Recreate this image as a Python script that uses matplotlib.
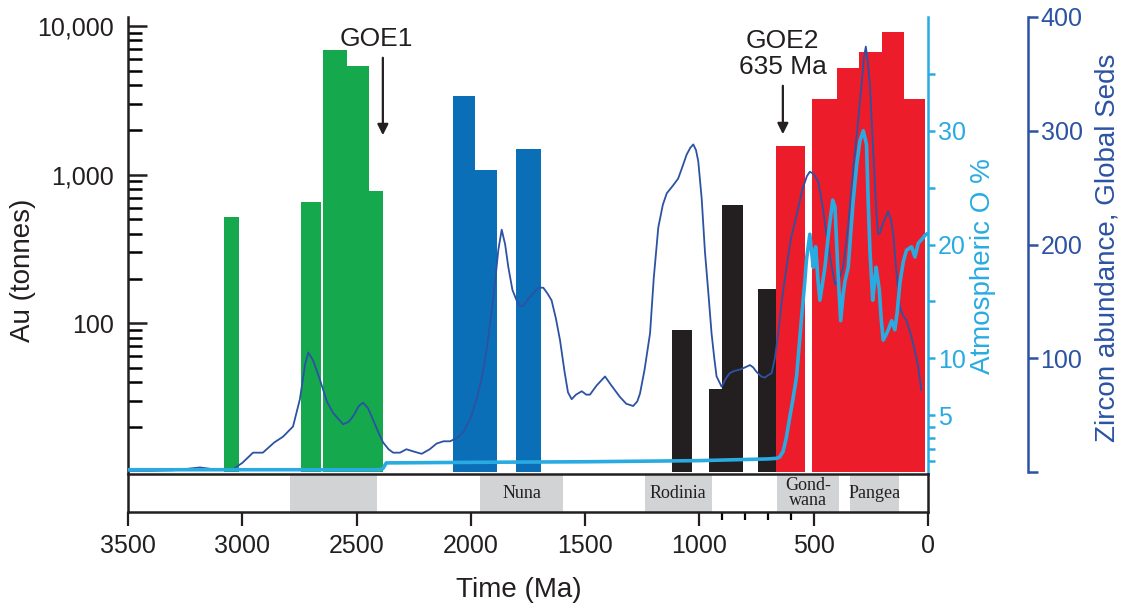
import matplotlib
matplotlib.use("Agg")
import matplotlib.pyplot as plt
from matplotlib.ticker import FixedLocator, FixedFormatter, NullFormatter

plt.rcParams["font.family"] = ["Liberation Sans", "DejaVu Sans"]

GREEN = "#15A84C"
BLUE = "#0B6FB8"
BLACK = "#231F20"
RED = "#EC1C2A"
LIGHT = "#29ABE2"
ZIRC = "#2C52A3"
GRAY = "#D1D3D4"

# Au deposits, bins given as (older edge, younger edge) in Ma, tonnes
green_old = [3080, 2741, 2646, 2543, 2445]
green_young = [3013, 2656, 2543, 2445, 2383]
green_au = [520, 650, 6900, 5400, 775]

blue_old = [2077, 1982, 1804]
blue_young = [1982, 1887, 1695]
blue_au = [3380, 1070, 1500]

black_old = [1119, 959, 903, 743]
black_young = [1034, 903, 811, 667]
black_au = [90, 36, 630, 170]

red_old = [667, 506, 396, 304, 203, 106]
red_young = [538, 396, 304, 203, 106, 12]
red_au = [1550, 3240, 5220, 6640, 9160, 3240]

# zircon abundance, global seds
zircon_age = [3500, 3400, 3300, 3230, 3185, 3130, 3040, 3000, 2953, 2910, 2860, 2822,
              2778, 2748, 2725, 2711, 2690, 2660, 2630, 2603, 2559, 2535, 2515, 2490,
              2472, 2450, 2428, 2405, 2384, 2360, 2340, 2310, 2282, 2250, 2215, 2180,
              2150, 2120, 2091, 2060, 2033, 2000, 1975, 1950, 1931, 1910, 1895, 1880,
              1865, 1850, 1836, 1818, 1800, 1785, 1771, 1750, 1727, 1705, 1683, 1665,
              1647, 1628, 1610, 1590, 1575, 1559, 1540, 1515, 1495, 1479, 1450, 1413,
              1385, 1348, 1320, 1290, 1272, 1260, 1240, 1216, 1200, 1180, 1160, 1143,
              1115, 1093, 1075, 1056, 1040, 1027, 1015, 1005, 990, 976, 960, 947, 935,
              925, 903, 885, 867, 845, 823, 800, 779, 765, 750, 730, 714, 700, 684, 670,
              655, 640, 619, 600, 575, 550, 530, 517, 500, 480, 462, 444, 425, 407, 390,
              371, 350, 327, 310, 291, 280, 272, 263, 254, 243, 232, 225, 218, 210, 203,
              190, 174, 162, 152, 140, 123, 110, 94, 80, 65, 45, 29]
zircon_val = [1, 1, 1.5, 3, 4, 2.5, 2.5, 8, 17, 17, 26, 31,
              40, 64, 95, 105, 98, 81, 62, 52, 42, 44, 49, 58,
              61, 56, 46, 35, 26, 20, 17, 17, 20, 18, 16, 20,
              25, 27, 27, 30, 35, 48, 64, 85, 107, 140, 165, 195,
              213, 200, 180, 160, 151, 146, 146, 152, 157, 162, 162, 157,
              151, 135, 116, 88, 70, 64, 68, 71, 68, 68, 76, 84,
              76, 66, 60, 58, 62, 69, 90, 122, 170, 215, 235, 245,
              252, 258, 268, 279, 285, 288, 283, 273, 240, 194, 155, 122, 100,
              84, 75, 82, 87, 89, 90, 92, 94, 92, 88, 84, 83, 85, 87, 100,
              122, 150, 180, 205, 226, 248, 260, 264, 262, 255, 235, 209, 185, 165, 168,
              180, 215, 267, 300, 340, 365, 374, 360, 340, 295, 252, 225, 209, 210, 215,
              222, 229, 222, 209, 180, 145, 138, 133, 124, 113, 95, 72]

# atmospheric O %
oxy_age = [3500, 2400, 2385, 2370, 2000, 1500, 1000, 700, 663, 650, 634, 620, 604,
           590, 575, 553, 540, 532, 517, 510, 502, 496, 491, 482, 473, 462, 451, 435,
           417, 407, 395, 382, 372, 363, 349, 338, 327, 312, 298, 283, 269, 262, 254,
           242, 235, 227, 220, 213, 205, 196, 185, 174, 159, 145, 135, 123, 108, 94,
           72, 57, 43, 25, 14, 0]
oxy_val = [0.2, 0.2, 0.3, 0.8, 0.85, 0.9, 1.0, 1.15, 1.2, 1.3, 1.8, 3.0, 4.9,
           6.5, 8.4, 13.6, 16.5, 18.6, 20.9, 19.5, 18, 19.5, 19.8, 17, 15.1, 16.5, 18, 21,
           23.9, 23.3, 18, 13.3, 15.5, 16.8, 18, 21, 23.9, 27, 29.1, 30, 28.8, 24, 19.5,
           15.1, 16.5, 18, 17, 16, 13.5, 11.6, 12, 12.5, 13.3, 12.5, 14, 16.6, 18.5, 19.5,
           19.8, 18.9, 20.1, 20.5, 20.8, 21]

# supercontinents strip
sc_old = [2790, 1960, 1240, 660, 340]
sc_young = [2410, 1595, 945, 390, 125]
sc_names = ["", "Nuna", "Rodinia", "Gond-\nwana", "Pangea"]

W, H = 1128, 609
fig = plt.figure(figsize=(W / 100, H / 100), dpi=100)


def frac(x0, y0, x1, y1):
    return [x0 / W, 1 - y1 / H, (x1 - x0) / W, (y1 - y0) / H]


ax = fig.add_axes(frac(128, 17, 928, 472))
ax.set_yscale("log")
ax.set_xlim(3500, 0)
ax.set_ylim(10, 11500)

for old, young, au, col in [(green_old, green_young, green_au, GREEN),
                            (blue_old, blue_young, blue_au, BLUE),
                            (black_old, black_young, black_au, BLACK),
                            (red_old, red_young, red_au, RED)]:
    widths = [o - y for o, y in zip(old, young)]
    heights = [a - 1 for a in au]
    ax.bar(young, heights, width=widths, bottom=1, align="edge",
           color=col, linewidth=0, zorder=2)

for s in ["top", "right", "bottom"]:
    ax.spines[s].set_visible(False)
ax.spines["left"].set_linewidth(1.8)
ax.spines["left"].set_color(BLACK)
ax.set_xticks([])
ax.yaxis.set_major_locator(FixedLocator([100, 1000, 10000]))
ax.yaxis.set_major_formatter(FixedFormatter(["100", "1,000", "10,000"]))
minors = [m * d for d in (10, 100, 1000) for m in range(2, 10)]
ax.yaxis.set_minor_locator(FixedLocator(minors))
ax.yaxis.set_minor_formatter(NullFormatter())
ax.tick_params(axis="y", which="major", direction="in", length=14, width=1.8,
               labelsize=18, pad=10, colors=BLACK)
ax.tick_params(axis="y", which="minor", direction="in", length=10, width=1.8)

# zircon axis
axz = ax.twinx()
axz.set_ylim(0, 400)
axz.plot(zircon_age, zircon_val, color=ZIRC, lw=1.3, zorder=3)
for s in ["top", "left", "bottom"]:
    axz.spines[s].set_visible(False)
axz.spines["right"].set_position(("axes", 900 / 800))
axz.spines["right"].set_color(ZIRC)
axz.spines["right"].set_linewidth(1.8)
axz.set_yticks([0, 100, 200, 300, 400])
axz.set_yticklabels(["", "100", "200", "300", "400"])
axz.tick_params(axis="y", direction="out", length=7, width=1.8, colors=ZIRC,
                labelsize=18, pad=2)

# oxygen axis
axo = ax.twinx()
axo.set_ylim(0, 40)
axo.plot(oxy_age, oxy_val, color=LIGHT, lw=2.6, zorder=4, solid_capstyle="butt")
for s in ["top", "left", "bottom"]:
    axo.spines[s].set_visible(False)
axo.spines["right"].set_color(LIGHT)
axo.spines["right"].set_linewidth(1.8)
axo.set_yticks([5, 10, 20, 30])
axo.set_yticks([1, 2, 3, 4, 15, 25, 35], minor=True)
axo.tick_params(axis="y", which="both", direction="out", length=5, width=1.8,
                colors=LIGHT, labelsize=18, pad=2)

# annotations
arrow = dict(arrowstyle="-|>", color=BLACK, lw=1.6, mutation_scale=16)
ax.annotate("", xy=(2385, (472 - 138) / 455), xytext=(2385, (472 - 55) / 455),
            xycoords=("data", "axes fraction"), textcoords=("data", "axes fraction"),
            arrowprops=arrow)
ax.text(2415, (472 - 39) / 455, "GOE1", transform=ax.get_xaxis_transform(),
        ha="center", va="center", fontsize=19, color=BLACK)
ax.annotate("", xy=(635, (472 - 137) / 455), xytext=(635, (472 - 83) / 455),
            xycoords=("data", "axes fraction"), textcoords=("data", "axes fraction"),
            arrowprops=arrow)
ax.text(635, (472 - 54) / 455, "GOE2\n635 Ma", transform=ax.get_xaxis_transform(),
        ha="center", va="center", fontsize=19, color=BLACK, linespacing=1.15)

# supercontinent strip
strip = fig.add_axes(frac(128, 474, 928, 512))
strip.set_xlim(3500, 0)
strip.set_ylim(0, 1)
for old, young, name in zip(sc_old, sc_young, sc_names):
    strip.axvspan(young, old, color=GRAY, lw=0)
    strip.text((old + young) / 2, 0.5, name, ha="center", va="center",
               fontsize=13, family="Liberation Serif", color=BLACK,
               linespacing=0.85)
for s in strip.spines.values():
    s.set_linewidth(1.8)
    s.set_color(BLACK)
strip.set_yticks([])
strip.set_xticks([3500, 3000, 2500, 2000, 1500, 1000, 500, 0])
strip.set_xticks([900, 800, 700, 600], minor=True)
strip.tick_params(axis="x", which="major", direction="out", length=10, width=1.6,
                  labelsize=18, pad=6, colors=BLACK)
strip.tick_params(axis="x", which="minor", direction="out", length=6, width=1.6)

fig.text(23 / W, 1 - 270 / H, "Au (tonnes)", rotation=90, ha="center", va="center",
         fontsize=20, color=BLACK)
fig.text(519 / W, 1 - 590 / H, "Time (Ma)", ha="center", va="center",
         fontsize=20, color=BLACK)
fig.text(983 / W, 1 - 266 / H, "Atmospheric O %", rotation=90, ha="center",
         va="center", fontsize=20, color=LIGHT)
fig.text(1107 / W, 1 - 248 / H, "Zircon abundance, Global Seds", rotation=90,
         ha="center", va="center", fontsize=20, color=ZIRC)

fig.savefig("out.png", dpi=100, facecolor="white")
